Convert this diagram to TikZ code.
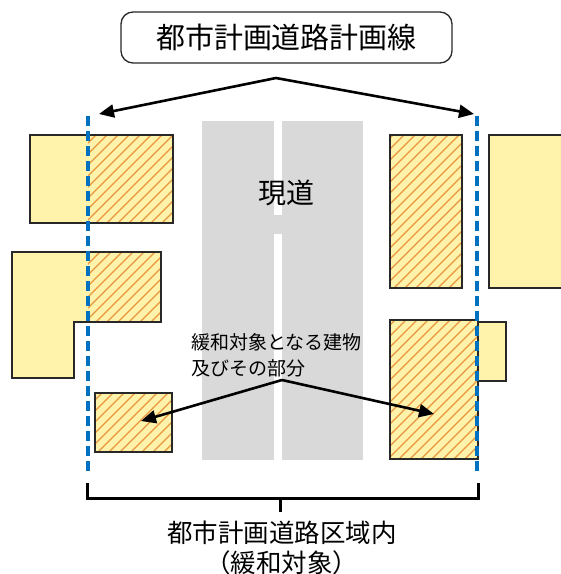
\documentclass[tikz,border=0pt]{standalone}
\usepackage{fontspec}
\setmainfont{Noto Sans CJK JP}
\usetikzlibrary{arrows.meta}
\definecolor{bldg}{RGB}{255,242,170}
\definecolor{hatchc}{RGB}{232,150,62}
\definecolor{roadc}{RGB}{217,217,217}
\definecolor{planblue}{RGB}{0,112,192}
\definecolor{edgec}{RGB}{40,40,40}
\tikzset{
  bfill/.style={fill=bldg},
  bedge/.style={draw=edgec,line width=1.2pt},
  hatchline/.style={draw=hatchc,line width=1.1pt},
  planline/.style={draw=planblue,line width=4.5pt,dash pattern=on 10pt off 5pt},
  bigarrow/.style={draw=black,line width=2.6pt,-{Triangle[length=15pt,width=13pt]}},
  bracket/.style={draw=black,line width=3pt},
  labelbox/.style={draw=edgec,line width=1.3pt,rounded corners=12pt,minimum width=331pt,minimum height=51pt,inner sep=0pt},
}
\newcommand{\hatchrect}[4]{%
  \begin{scope}
    \clip (#1,#2) rectangle (#3,#4);
    \foreach \c in {0,11,...,1100} \draw[hatchline] (\c,0) -- (0,\c);
  \end{scope}}
\begin{document}
\begin{tikzpicture}[x=1pt,y=-1pt]
\useasboundingbox (0,0) rectangle (561,574);
% road
\fill[roadc] (202,121) rectangle (363,460);
\fill[white] (273.5,121) rectangle (282,215);
\fill[white] (273.5,234) rectangle (282,460);
\node[font=\fontsize{28}{32}\selectfont] (road) at (286,193) {現道};
% left top building
\fill[bfill] (30,135) rectangle (173,223);
\hatchrect{88}{135}{173}{223}
\draw[bedge] (30,135) rectangle (173,223);
% left middle L building
\fill[bfill] (12,252) -- (161,252) -- (161,322) -- (74,322) -- (74,378) -- (12,378) -- cycle;
\hatchrect{88}{252}{161}{322}
\draw[bedge] (12,252) -- (161,252) -- (161,322) -- (74,322) -- (74,378) -- (12,378) -- cycle;
% left bottom small building
\fill[bfill] (95,393) rectangle (172,452);
\hatchrect{95}{393}{172}{452}
\draw[bedge] (95,393) rectangle (172,452);
% right top hatched
\fill[bfill] (390,135) rectangle (462,288);
\hatchrect{390}{135}{462}{288}
\draw[bedge] (390,135) rectangle (462,288);
% right top plain
\fill[bfill] (489,135) rectangle (563,288);
\draw[bedge] (489,135) rectangle (563,288);
% right lower
\fill[bfill] (478,322) rectangle (506,381);
\draw[bedge] (478,322) rectangle (506,381);
\fill[bfill] (390,320) rectangle (478,459);
\hatchrect{390}{320}{478}{459}
\draw[bedge] (390,320) rectangle (478,459);
% plan lines
\coordinate (lt) at (88,116);
\coordinate (lb) at (88,475);
\coordinate (rt) at (477,116);
\coordinate (rb) at (477,475);
\draw[planline] (lt) -- (lb);
\draw[planline] (rt) -- (rb);
% top label
\node[labelbox,font=\fontsize{29}{34}\selectfont] (title) at (286.5,37.5) {都市計画道路計画線};
\coordinate (apex) at (276,78);
\coordinate (la) at (99,114);
\coordinate (ra) at (474,114);
\draw[bigarrow] (apex) -- (la);
\draw[bigarrow] (apex) -- (ra);
% middle label
\node[anchor=west,align=left,inner sep=0pt,font=\fontsize{19}{26}\selectfont] (mid) at (191,355) {緩和対象となる建物\\及びその部分};
\coordinate (mapex) at (282,380);
\coordinate (ma) at (141,421);
\coordinate (mb) at (434,414);
\draw[bigarrow] (mapex) -- (ma);
\draw[bigarrow] (mapex) -- (mb);
% bottom bracket
\coordinate (bl) at (87,483);
\coordinate (br) at (478,483);
\coordinate (bm) at (280,498);
\coordinate (bt) at (280,512);
\draw[bracket] (bl) |- (bm) -| (br);
\draw[bracket] (bm) -- (bt);
\node[anchor=north,align=center,inner sep=0pt,font=\fontsize{25.5}{30}\selectfont] (area) at (282,521) {都市計画道路区域内\\（緩和対象）};
\end{tikzpicture}
\end{document}
